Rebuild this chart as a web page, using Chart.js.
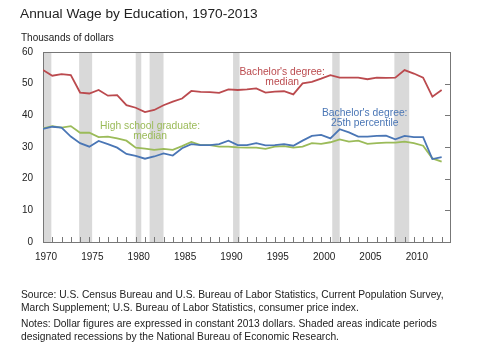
<!DOCTYPE html>
<html><head><meta charset="utf-8">
<script src="https://cdn.jsdelivr.net/npm/chart.js@4.4.1/dist/chart.umd.min.js"></script>
<style>
html,body{margin:0;padding:0;background:#fff;}
body{width:481px;height:355px;position:relative;overflow:hidden;font-family:"Liberation Sans",Arial,sans-serif;color:#222;}
#wrap{position:absolute;left:0;top:0;width:481px;height:355px;}
.t{position:absolute;white-space:nowrap;}
#title{left:20px;top:6px;font-size:13.7px;}
#sub{left:21px;top:32px;font-size:10px;}
#notes{left:21px;top:289px;font-size:10.25px;line-height:12.5px;}
#notes p{margin:0 0 4px 0;}
</style></head><body>
<div id="wrap"><canvas id="c" width="481" height="355"></canvas></div>
<div class="t" id="title">Annual Wage by Education, 1970-2013</div>
<div class="t" id="sub">Thousands of dollars</div>
<div class="t" id="notes"><p>Source: U.S. Census Bureau and U.S. Bureau of Labor Statistics, Current Population Survey,<br>March Supplement; U.S. Bureau of Labor Statistics, consumer price index.</p><p>Notes: Dollar figures are expressed in constant 2013 dollars. Shaded areas indicate periods<br>designated recessions by the National Bureau of Economic Research.</p></div>
<script>
const years = [];
for (let y = 1970; y <= 2013; y++) years.push(y);
const bachelorMedian = [54.3,52.5,53.0,52.7,47.2,46.9,48.0,46.2,46.4,43.2,42.4,41.0,41.7,43.2,44.3,45.3,47.7,47.4,47.3,47.1,48.2,48.0,48.2,48.5,47.2,47.5,47.6,46.6,50.1,50.6,51.6,52.7,51.9,51.9,51.9,51.4,51.9,51.8,51.9,54.3,53.2,51.9,45.9,48.0];
const bachelor25th = [35.7,36.4,36.1,33.3,31.2,30.1,31.9,30.9,29.8,27.8,27.2,26.3,27.0,28.0,27.3,29.6,30.9,30.6,30.6,30.9,32.0,30.6,30.6,31.2,30.5,30.6,30.9,30.4,32.0,33.5,33.8,32.7,35.6,34.6,33.3,33.3,33.5,33.6,32.4,33.5,33.1,33.1,26.2,26.8];
const highSchoolMedian = [35.9,36.6,36.1,36.6,34.5,34.5,33.1,33.3,32.7,32.0,29.8,29.5,29.1,29.4,29.1,30.3,31.6,30.6,30.6,30.1,30.1,29.9,29.8,29.8,29.4,30.1,30.3,29.8,30.1,31.2,31.0,31.5,32.4,31.7,32.0,31.0,31.2,31.4,31.4,31.7,31.2,30.4,26.4,25.4];
const recessionStart = [1970.0,1973.9,1980.0,1981.5,1990.5,2001.2,2007.9];
const recessionEnd   = [1970.9,1975.3,1980.6,1983.0,1991.2,2002.0,2009.5];
const xTickLabels = [1970,1975,1980,1985,1990,1995,2000,2005,2010];
const yTickLabels = [0,10,20,30,40,50,60];

const RED = '#bb4a4e', BLUE = '#4a76b5', GREEN = '#9bbb59';
const labels = [
  {text:["Bachelor's degree:","median"], x:1995.8, y:53.7, color:RED},
  {text:["Bachelor's degree:","25th percentile"], x:2004.7, y:40.7, color:BLUE},
  {text:["High school graduate:","median"], x:1981.55, y:36.6, color:GREEN}
];

const pts = arr => arr.map((v,i)=>({x:years[i], y:v}));

const decor = {
  id:'decor',
  beforeDatasetsDraw(chart){
    const {ctx, chartArea:a, scales:{x, y}} = chart;
    ctx.save();
    ctx.fillStyle = '#d9d9d9';
    for (let i=0;i<recessionStart.length;i++){
      const x0 = x.getPixelForValue(recessionStart[i]);
      const x1 = x.getPixelForValue(recessionEnd[i]);
      ctx.fillRect(x0, a.top, x1-x0, a.bottom-a.top);
    }
    ctx.strokeStyle = '#777';
    ctx.lineWidth = 1;
    ctx.beginPath();
    years.forEach(yr=>{
      const px = Math.round(x.getPixelForValue(yr))+0.5;
      ctx.moveTo(px, a.bottom); ctx.lineTo(px, a.bottom-5);
    });
    yTickLabels.forEach(v=>{
      const py = Math.round(y.getPixelForValue(v))+0.5;
      ctx.moveTo(a.right, py); ctx.lineTo(a.right-5, py);
    });
    ctx.stroke();
    ctx.strokeRect(Math.round(a.left)+0.5, Math.round(a.top)+0.5, Math.round(a.right-a.left), Math.round(a.bottom-a.top));
    ctx.restore();
  },
  afterDatasetsDraw(chart){
    const {ctx, scales:{x, y}} = chart;
    ctx.save();
    ctx.font = '10.3px "Liberation Sans", Arial, sans-serif';
    ctx.textAlign = 'center';
    ctx.textBaseline = 'middle';
    labels.forEach(l=>{
      ctx.fillStyle = l.color;
      const px = x.getPixelForValue(l.x), py = y.getPixelForValue(l.y);
      l.text.forEach((t,k)=>ctx.fillText(t, px, py + k*10.5));
    });
    ctx.restore();
  }
};

new Chart(document.getElementById('c'), {
  type:'line',
  data:{datasets:[
    {data:pts(bachelorMedian), borderColor:RED, borderWidth:1.8, pointRadius:0, tension:0},
    {data:pts(bachelor25th), borderColor:BLUE, borderWidth:1.8, pointRadius:0, tension:0},
    {data:pts(highSchoolMedian), borderColor:GREEN, borderWidth:1.8, pointRadius:0, tension:0}
  ]},
  options:{
    responsive:false, animation:false,
    layout:{padding:{left:18, top:52, right:31, bottom:0}},
    plugins:{legend:{display:false}, tooltip:{enabled:false}},
    scales:{
      x:{type:'linear', min:1970, max:2013.9,
        afterBuildTicks(s){ s.ticks = xTickLabels.map(v=>({value:v})); },
        grid:{display:false, drawTicks:false},
        border:{display:false},
        ticks:{color:'#222', font:{size:10, family:'"Liberation Sans", Arial, sans-serif'}, padding:9, labelOffset:3, maxRotation:0, autoSkip:false, callback:v=>String(v)},
        afterFit(s){ s.height = 113; }
      },
      y:{min:0, max:60,
        afterBuildTicks(s){ s.ticks = yTickLabels.map(v=>({value:v})); },
        grid:{display:false, drawTicks:false},
        border:{display:false},
        ticks:{color:'#222', font:{size:10, family:'"Liberation Sans", Arial, sans-serif'}, padding:10},
        afterFit(s){ s.width = 25; }
      }
    }
  },
  plugins:[decor]
});
</script>
</body></html>
